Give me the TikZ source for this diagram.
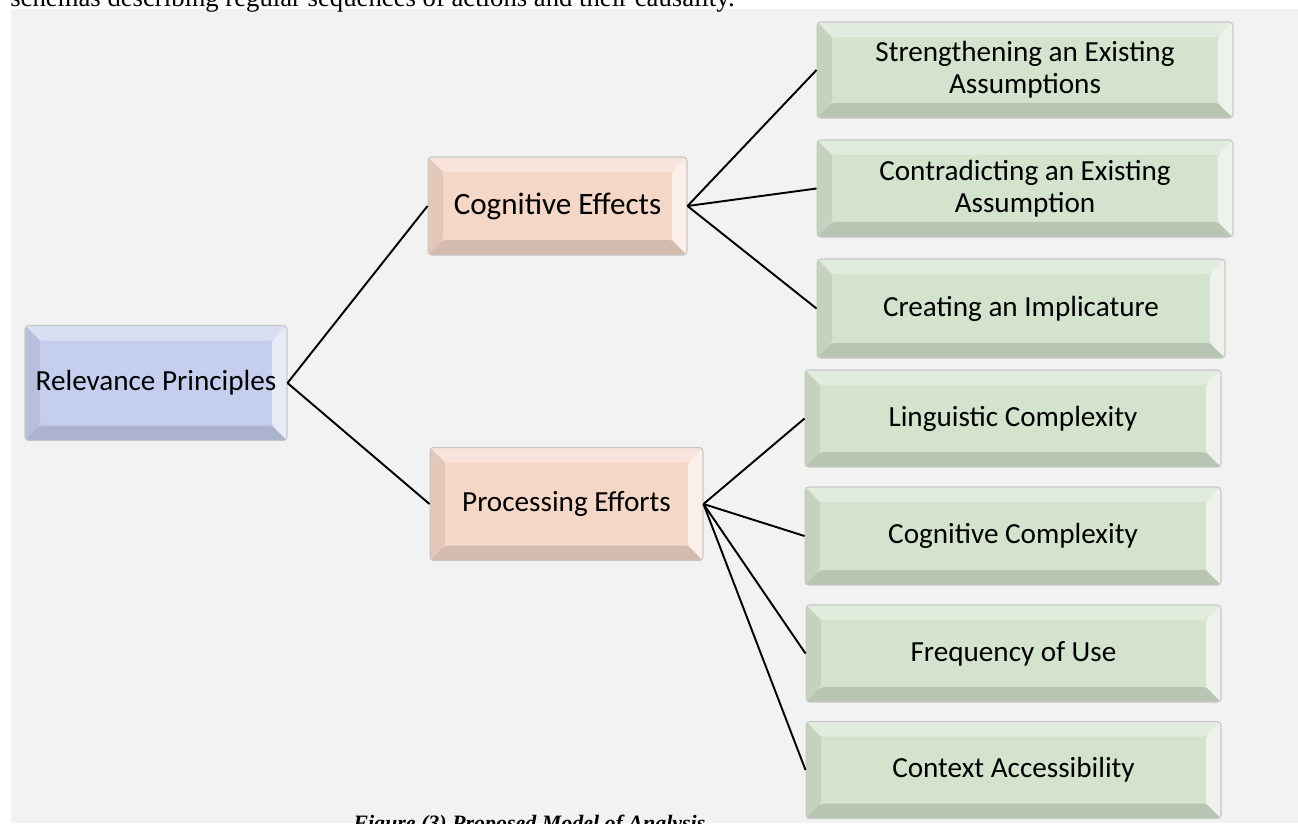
\documentclass[tikz,border=0pt]{standalone}
\usepackage{fontspec}
\setmainfont{Carlito}
\newfontfamily\timesfont{Liberation Serif}
\definecolor{leafgreen}{RGB}{211,227,205}
\definecolor{midpeach}{RGB}{245,215,199}
\definecolor{rootblue}{RGB}{197,206,238}
\tikzset{
	bevel/.style = {
			rectangle, rounded corners=2pt, fill=#1, draw=black!22, line width=0.6pt,
			align=center, inner sep=0pt, font=\fontsize{16.6}{18}\selectfont,
			path picture={
					% ====== left / top / right / bottom faces ========
					\fill[black, opacity=.07] (path picture bounding box.south west) -- (path picture bounding box.north west) -- ([shift={(0.3cm,-0.3cm)}]path picture bounding box.north west) -- ([shift={(0.3cm,0.3cm)}]path picture bounding box.south west) -- cycle;
					\fill[white, opacity=.35] (path picture bounding box.north west) -- (path picture bounding box.north east) -- ([shift={(-0.3cm,-0.3cm)}]path picture bounding box.north east) -- ([shift={(0.3cm,-0.3cm)}]path picture bounding box.north west) -- cycle;
					\fill[white, opacity=.6] (path picture bounding box.north east) -- (path picture bounding box.south east) -- ([shift={(-0.3cm,0.3cm)}]path picture bounding box.south east) -- ([shift={(-0.3cm,-0.3cm)}]path picture bounding box.north east) -- cycle;
					\fill[black, opacity=.13] (path picture bounding box.south west) -- (path picture bounding box.south east) -- ([shift={(-0.3cm,0.3cm)}]path picture bounding box.south east) -- ([shift={(0.3cm,0.3cm)}]path picture bounding box.south west) -- cycle;
				}
		},
	link/.style = {draw=black, line width=1.1pt}
}

\begin{document}
\begin{tikzpicture}[x=0.02cm, y=-0.02cm]
	\useasboundingbox (0,0) rectangle (1298,823);
	\fill[gray!10] (11,9) rectangle (1298,823);
	\node[anchor=base west, inner sep=0pt, font=\timesfont\fontsize{15.2}{18}\selectfont] (toptext) at (10,6) {schemas describing regular sequences of actions and their causality.};

	% ====== Levels ========
	\node[bevel=rootblue, minimum width=5.24cm, minimum height=2.3cm] (root) at (156,383) {Relevance Principles};
	\node[bevel=midpeach, minimum width=5.18cm, minimum height=1.96cm, font=\fontsize{17.7}{20}\selectfont] (eff) at (557.5,206) {Cognitive Effects};
	\node[bevel=midpeach, minimum width=5.46cm, minimum height=2.26cm] (pro) at (566.5,504) {Processing Efforts};

	\node[bevel=leafgreen, minimum width=8.32cm, minimum height=1.92cm] (str) at (1025,70) {Strengthening an Existing\\Assumptions};
	\node[bevel=leafgreen, minimum width=8.32cm, minimum height=1.94cm] (con) at (1025,188.5) {Contradicting an Existing\\Assumption};
	\node[bevel=leafgreen, minimum width=8.16cm, minimum height=1.98cm] (cre) at (1021,308.5) {Creating an Implicature};

	\node[bevel=leafgreen, minimum width=8.32cm, minimum height=1.94cm] (lin) at (1013,418.5) {Linguistic Complexity};
	\node[bevel=leafgreen, minimum width=8.32cm, minimum height=1.96cm] (cog) at (1013,536) {Cognitive Complexity};
	\node[bevel=leafgreen, minimum width=8.3cm, minimum height=1.94cm] (fre) at (1013.5,653.5) {Frequency of Use};
	\node[bevel=leafgreen, minimum width=8.3cm, minimum height=1.94cm] (ctx) at (1013.5,770) {Context Accessibility};

	% ====== Links ========
	\foreach \m in {eff,pro} {\draw[link] (root.east) -- (\m.west);}
	\foreach \c in {str,con,cre} {\draw[link] (eff.east) -- (\c.west);}
	\foreach \c in {lin,cog,fre,ctx} {\draw[link] (pro.east) -- (\c.west);}

	\node[anchor=base west, inner sep=0pt, font=\timesfont\bfseries\itshape\fontsize{12.5}{15}\selectfont] (caption) at (353,830) {Figure (3) Proposed Model of Analysis};
\end{tikzpicture}
\end{document}
